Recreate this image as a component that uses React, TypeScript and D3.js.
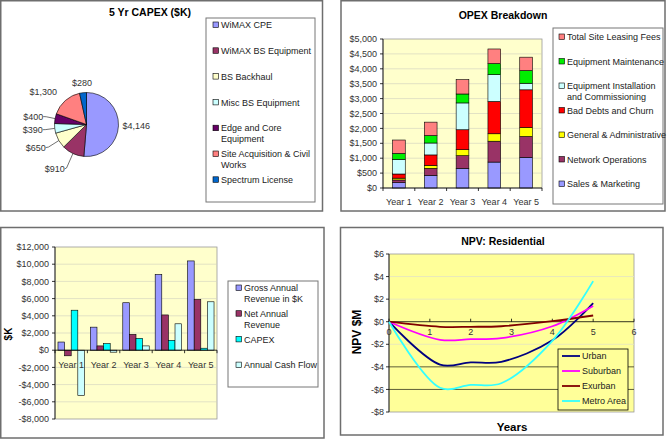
import * as d3 from 'd3';

const W = 669;
const H = 439;
const FONT = '"Liberation Sans", Arial, Helvetica, sans-serif';
const BORDER = '#6e6e6e';

// ---- 5 Yr CAPEX ($K) pie ----
const capexLabels = [
  'WiMAX CPE',
  'WiMAX BS Equipment',
  'BS Backhaul',
  'Misc BS Equipment',
  'Edge and Core\nEquipment',
  'Site Acquisition & Civil\nWorks',
  'Spectrum License',
];
const capexValues = [4146, 910, 650, 390, 400, 1300, 280];
const capexColors = ['#9999FF', '#993366', '#FFFFCC', '#CCFFFF', '#660066', '#FF8080', '#0066CC'];

// ---- OPEX Breakdown (stacked, bottom to top) ----
const years = ['Year 1', 'Year 2', 'Year 3', 'Year 4', 'Year 5'];
const opexSeries = [
  'Sales & Marketing',
  'Network Operations',
  'General & Administrative',
  'Bad Debts and Churn',
  'Equipment Installation\nand Commissioning',
  'Equipment Maintenance',
  'Total Site Leasing Fees',
];
const opexColors = ['#9999FF', '#993366', '#FFFF00', '#FF0000', '#CCFFFF', '#00EE00', '#FF8080'];
const salesMarketing = [180, 425, 660, 870, 1030];
const networkOps = [90, 235, 425, 700, 700];
const generalAdmin = [60, 100, 200, 250, 300];
const badDebts = [140, 350, 670, 1085, 1265];
const equipInstall = [490, 400, 900, 900, 220];
const equipMaint = [200, 250, 300, 370, 425];
const siteLeasing = [450, 450, 480, 490, 450];
const opexValues = [salesMarketing, networkOps, generalAdmin, badDebts, equipInstall, equipMaint, siteLeasing];
const opexTicks = [0, 500, 1000, 1500, 2000, 2500, 3000, 3500, 4000, 4500, 5000];

// ---- Revenue / CAPEX / cash flow ----
const revSeries = ['Gross Annual\nRevenue in $K', 'Net Annual\nRevenue', 'CAPEX', 'Annual Cash Flow'];
const revColors = ['#9999FF', '#993366', '#00FFFF', '#CCFFFF'];
const grossRevenue = [950, 2680, 5520, 8810, 10380];
const netRevenue = [-650, 500, 1840, 4100, 5900];
const capexYearly = [4650, 770, 1380, 1150, 230];
const cashFlow = [-5250, -230, 500, 3070, 5630];
const revValues = [grossRevenue, netRevenue, capexYearly, cashFlow];
const revTicks = [-8000, -6000, -4000, -2000, 0, 2000, 4000, 6000, 8000, 10000, 12000];

// ---- NPV: Residential ($M) ----
const npvYears = [0, 1.25, 2, 2.75, 4, 5];
const npvSeries = ['Urban', 'Suburban', 'Exurban', 'Metro Area'];
const npvColors = ['#000080', '#FF00FF', '#800000', '#33FFFF'];
const urban = [0, -3.8, -3.6, -3.55, -1.65, 1.65];
const suburban = [0, -1.6, -1.55, -1.45, -0.4, 1.4];
const exurban = [0, -0.45, -0.45, -0.4, 0.05, 0.55];
const metro = [0, -5.85, -5.6, -5.45, -1.7, 3.6];
const npvValues = [urban, suburban, exurban, metro];
const npvYTicks = [-8, -6, -4, -2, 0, 2, 4, 6];
const npvXTicks = [0, 1, 2, 3, 4, 5, 6];

const money = (v: number) => (v < 0 ? '-$' : '$') + d3.format(',')(Math.abs(v));

// legend entry: square marker + wrapped text
const LegendItem = ({ x, y, color, label }: { x: number; y: number; color: string; label: string }) => (
  <g>
    <rect x={x} y={y - 3} width={5.5} height={5.5} fill={color} stroke="#000" strokeWidth={0.6} />
    <text x={x + 8} y={y} fontSize={9} fill="#222">
      {label.split('\n').map((l, i) => (
        <tspan key={i} x={x + 8} dy={i === 0 ? '0.35em' : 11}>
          {l}
        </tspan>
      ))}
    </text>
  </g>
);

const CapexPie = () => {
  const cx = 86.5;
  const cy = 124.5;
  const r = 32;
  const arcs = d3.pie<number>().sort(null).value(d => d)(capexValues);
  const arc = d3.arc<d3.PieArcDatum<number>>().innerRadius(0).outerRadius(r);

  return (
    <g>
      <rect x={0.75} y={0.75} width={321.75} height={210.25} fill="#fff" stroke={BORDER} strokeWidth={1.5} />
      <text x={150} y={16} textAnchor="middle" fontSize={10.5} fontWeight="bold">
        5 Yr CAPEX ($K)
      </text>
      <g transform={`translate(${cx},${cy})`}>
        {arcs.map((a, i) => (
          <path key={i} d={arc(a) || ''} fill={capexColors[i]} stroke="#000" strokeWidth={0.6} />
        ))}
        {arcs.map((a, i) => {
          const mid = (a.startAngle + a.endAngle) / 2;
          const sx = Math.sin(mid);
          const sy = -Math.cos(mid);
          const label = money(a.data);
          if (sx > 0.3) {
            return (
              <text key={i} x={sx * (r + 4)} y={sy * (r + 4)} dy="0.35em" fontSize={9} fill="#333">
                {label}
              </text>
            );
          }
          if (Math.abs(sx) <= 0.3) {
            return (
              <text key={i} x={sx * (r + 10)} y={sy * (r + 10)} dy="0.35em" textAnchor="middle" fontSize={9} fill="#333">
                {label}
              </text>
            );
          }
          // leader lines for the small slices on the lower left
          const leader = mid > Math.PI && mid < 5.3;
          const lr = mid < 3.8 ? r + 17 : mid < 4.3 ? r + 14 : r + 11;
          return (
            <g key={i}>
              {leader && (
                <polyline
                  points={`${sx * r},${sy * r} ${sx * (lr - 2)},${sy * (lr - 1)} ${sx * lr - 1},${sy * lr}`}
                  fill="none"
                  stroke="#333"
                  strokeWidth={0.7}
                />
              )}
              <text x={sx * lr - 1} y={sy * lr} dy="0.35em" textAnchor="end" fontSize={9} fill="#333">
                {label}
              </text>
            </g>
          );
        })}
      </g>
      <rect x={206} y={18} width={109} height={184} fill="#fff" stroke="#777" strokeWidth={1} />
      {capexLabels.map((l, i) => (
        <LegendItem key={l} x={213} y={25 + i * 25.8} color={capexColors[i]} label={l} />
      ))}
    </g>
  );
};

const OpexChart = () => {
  const left = 383;
  const right = 542;
  const top = 39;
  const bottom = 188;
  const x = d3.scaleBand<string>().domain(years).range([left, right]).paddingInner(0.6).paddingOuter(0.3);
  const y = d3.scaleLinear().domain([0, 5000]).range([bottom, top]);

  const table = years.map((yr, i) => {
    const row: Record<string, number> = {};
    opexSeries.forEach((s, k) => (row[s] = opexValues[k][i]));
    return row;
  });
  const stacked = d3.stack<Record<string, number>>().keys(opexSeries)(table);
  const step = x.step();

  return (
    <g>
      <rect x={341} y={0.75} width={324} height={210.25} fill="#fff" stroke={BORDER} strokeWidth={1.5} />
      <text x={503} y={19} textAnchor="middle" fontSize={10.5} fontWeight="bold">
        OPEX Breakdown
      </text>
      <rect x={left} y={top} width={right - left} height={bottom - top} fill="#FFFFCC" stroke="#999" strokeWidth={0.8} />
      {opexTicks.map(t => (
        <g key={t}>
          {t > 0 && t < 5000 && <line x1={left} x2={right} y1={y(t)} y2={y(t)} stroke="#cfcfc0" strokeWidth={0.6} />}
          <line x1={left - 3} x2={left} y1={y(t)} y2={y(t)} stroke="#000" strokeWidth={0.8} />
          <text x={left - 6} y={y(t)} dy="0.35em" textAnchor="end" fontSize={9} fill="#333">
            {money(t)}
          </text>
        </g>
      ))}
      {stacked.map((layer, k) => (
        <g key={k}>
          {layer.map((d, i) => (
            <rect
              key={i}
              x={x(years[i])}
              y={y(d[1])}
              width={x.bandwidth()}
              height={y(d[0]) - y(d[1])}
              fill={opexColors[k]}
              stroke="#000"
              strokeWidth={0.6}
            />
          ))}
        </g>
      ))}
      <line x1={left} x2={left} y1={top} y2={bottom} stroke="#000" strokeWidth={0.8} />
      <line x1={left} x2={right} y1={bottom} y2={bottom} stroke="#000" strokeWidth={0.8} />
      {d3.range(years.length + 1).map(i => (
        <line key={i} x1={left + i * step} x2={left + i * step} y1={bottom} y2={bottom + 3} stroke="#000" strokeWidth={0.8} />
      ))}
      {years.map(yr => (
        <text key={yr} x={(x(yr) || 0) + x.bandwidth() / 2} y={202} dy="0.35em" textAnchor="middle" fontSize={9} fill="#333">
          {yr}
        </text>
      ))}
      <rect x={553} y={28} width={110} height={176} fill="#fff" stroke="#777" strokeWidth={1} />
      {opexSeries
        .slice()
        .reverse()
        .map((s, i) => (
          <LegendItem key={s} x={559} y={37 + i * 24.5} color={opexColors[opexSeries.length - 1 - i]} label={s} />
        ))}
    </g>
  );
};

const RevenueChart = () => {
  const left = 55;
  const right = 217;
  const top = 247;
  const bottom = 419;
  const x = d3.scaleBand<string>().domain(years).range([left, right]).padding(0);
  const inner = d3
    .scaleBand<number>()
    .domain(d3.range(revSeries.length))
    .range([0, x.bandwidth()])
    .paddingOuter(0.75 * 0.6)
    .paddingInner(0);
  const y = d3.scaleLinear().domain([-8000, 12000]).range([bottom, top]);
  const y0 = y(0);

  return (
    <g>
      <rect x={0.75} y={227.5} width={323.25} height={210.5} fill="#fff" stroke={BORDER} strokeWidth={1.5} />
      <rect x={left} y={top} width={right - left} height={bottom - top} fill="#FFFFCC" stroke="#999" strokeWidth={0.8} />
      {revTicks.map(t => (
        <g key={t}>
          {t !== 0 && t !== 12000 && t !== -8000 && (
            <line x1={left} x2={right} y1={y(t)} y2={y(t)} stroke="#cfcfc0" strokeWidth={0.6} />
          )}
          <line x1={left - 3} x2={left} y1={y(t)} y2={y(t)} stroke="#000" strokeWidth={0.8} />
          <text x={left - 6} y={y(t)} dy="0.35em" textAnchor="end" fontSize={9} fill="#333">
            {money(t)}
          </text>
        </g>
      ))}
      {revValues.map((vals, k) => (
        <g key={k}>
          {vals.map((v, i) => (
            <rect
              key={i}
              x={(x(years[i]) || 0) + (inner(k) || 0)}
              y={Math.min(y(v), y0)}
              width={inner.bandwidth()}
              height={Math.abs(y(v) - y0)}
              fill={revColors[k]}
              stroke="#000"
              strokeWidth={0.6}
            />
          ))}
        </g>
      ))}
      <line x1={left} x2={left} y1={top} y2={bottom} stroke="#000" strokeWidth={0.8} />
      <line x1={left} x2={right} y1={y0} y2={y0} stroke="#000" strokeWidth={0.8} />
      {d3.range(years.length + 1).map(i => (
        <line key={i} x1={left + i * x.step()} x2={left + i * x.step()} y1={y0} y2={y0 + 3} stroke="#000" strokeWidth={0.8} />
      ))}
      {years.map(yr => (
        <text key={yr} x={(x(yr) || 0) + x.bandwidth() / 2} y={365} dy="0.35em" textAnchor="middle" fontSize={9} fill="#333">
          {yr}
        </text>
      ))}
      <text transform="translate(8,334) rotate(-90)" textAnchor="middle" dy="0.35em" fontSize={10} fontWeight="bold">
        $K
      </text>
      <rect x={228} y={281} width={90} height={106} fill="#fff" stroke="#777" strokeWidth={1} />
      {revSeries.map((s, i) => (
        <LegendItem key={s} x={236} y={288 + i * 25.7} color={revColors[i]} label={s} />
      ))}
    </g>
  );
};

const NpvChart = () => {
  const left = 389;
  const right = 634;
  const top = 254;
  const bottom = 412;
  const x = d3.scaleLinear().domain([0, 6]).range([left, right]);
  const y = d3.scaleLinear().domain([-8, 6]).range([bottom, top]);
  const line = d3
    .line<number>()
    .curve(d3.curveCatmullRom.alpha(0.5))
    .x((_, i) => x(npvYears[i]))
    .y(d => y(d));

  return (
    <g>
      <rect x={340.5} y={227.5} width={322.5} height={207.5} fill="#fff" stroke={BORDER} strokeWidth={1.5} />
      <text x={503} y={241} dy="0.35em" textAnchor="middle" fontSize={10.5} fontWeight="bold">
        NPV: Residential
      </text>
      <rect x={left} y={top} width={right - left} height={bottom - top} fill="#FFFF99" stroke="#999" strokeWidth={0.8} />
      {npvYTicks.map(t => (
        <g key={t}>
          {t !== 0 && t !== 6 && t !== -8 && (
            <line
              x1={left}
              x2={right}
              y1={y(t)}
              y2={y(t)}
              stroke={t <= -4 ? '#4d4d2e' : '#e3e3c4'}
              strokeWidth={t <= -4 ? 0.9 : 0.8}
            />
          )}
          <line x1={left - 3} x2={left} y1={y(t)} y2={y(t)} stroke="#000" strokeWidth={0.8} />
          <text x={left - 5} y={y(t)} dy="0.35em" textAnchor="end" fontSize={9} fill="#333">
            {money(t)}
          </text>
        </g>
      ))}
      <line x1={left} x2={left} y1={top} y2={bottom} stroke="#000" strokeWidth={0.8} />
      <line x1={left} x2={right} y1={y(0)} y2={y(0)} stroke="#000" strokeWidth={0.8} />
      {npvXTicks.map(t => (
        <g key={t}>
          <line x1={x(t)} x2={x(t)} y1={y(0) - 3} y2={y(0)} stroke="#000" strokeWidth={0.8} />
          <text x={x(t)} y={y(0) + 12} dy="0.1em" textAnchor="middle" fontSize={9} fill="#333">
            {t}
          </text>
        </g>
      ))}
      {npvValues.map((vals, k) => (
        <path key={k} d={line(vals) || ''} fill="none" stroke={npvColors[k]} strokeWidth={1.8} />
      ))}
      <text transform="translate(357,332) rotate(-90)" textAnchor="middle" dy="0.35em" fontSize={12} fontWeight="bold">
        NPV $M
      </text>
      <text x={512} y={427} dy="0.35em" textAnchor="middle" fontSize={11.5} fontWeight="bold">
        Years
      </text>
      <rect x={558} y={349} width={70} height={61} fill="#FFFF99" stroke="#000" strokeWidth={0.8} />
      {npvSeries.map((s, i) => (
        <g key={s}>
          <line x1={562} x2={580} y1={356 + i * 15} y2={356 + i * 15} stroke={npvColors[i]} strokeWidth={1.8} />
          <text x={582} y={356 + i * 15} dy="0.35em" fontSize={9} fill="#222">
            {s}
          </text>
        </g>
      ))}
    </g>
  );
};

export default function App() {
  return (
    <svg
      width={W}
      height={H}
      style={{ position: 'absolute', left: 0, top: 0, background: '#fff' }}
      fontFamily={FONT}
    >
      <CapexPie />
      <OpexChart />
      <RevenueChart />
      <NpvChart />
    </svg>
  );
}
